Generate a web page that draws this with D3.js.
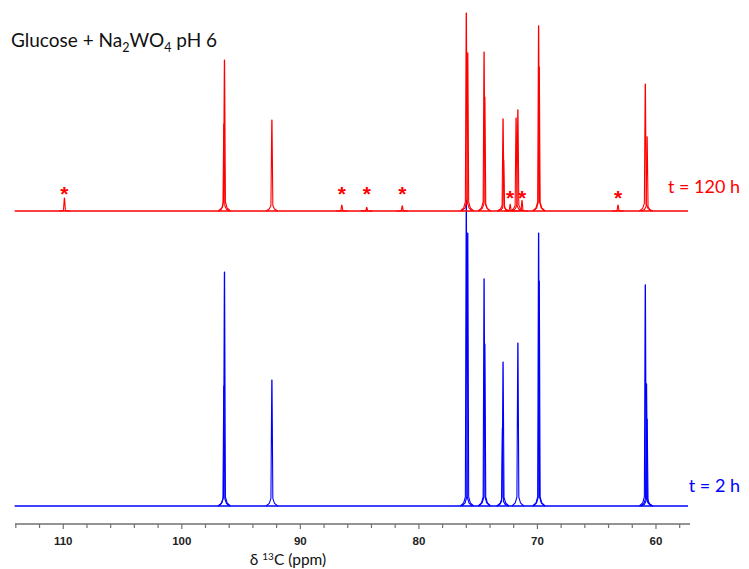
<!DOCTYPE html>
<html><head><meta charset="utf-8">
<script src="https://cdn.jsdelivr.net/npm/d3@7"></script>
<style>body{margin:0;background:#fff}svg{display:block}</style>
</head><body>
<svg id="c" width="749" height="569"></svg>
<script>
// ---- data ----
const spectrumRange = [114.1, 57.3];            // ppm range of recorded spectra
const tickLabels = [110, 100, 90, 80, 70, 60];  // labelled ticks
const minorTicks = [114,112,108,106,104,102,98,96,94,92,88,86,84,82,78,76,74,72,68,66,64,62,58];
// [ppm, intensity] (100 = tallest blue line)
const peaks120h = [
  [109.9, 4.3], [96.4, 50.3], [96.45, 29], [92.4, 30.3],
  [86.5, 2.0], [84.4, 1.2], [81.4, 1.7],
  [76.0, 66], [75.88, 52.7], [74.5, 53], [74.44, 38],
  [72.9, 30.7], [72.85, 17], [72.3, 2.2], [71.8, 31], [71.65, 33.7],
  [71.3, 3.5], [69.9, 61.7], [69.85, 48], [63.2, 2.0],
  [60.9, 42.3], [60.75, 24.7]
];
const peaks2h = [
  [96.4, 78], [96.45, 40], [92.4, 42],
  [76.0, 102], [75.88, 91], [74.5, 75.7], [74.44, 54],
  [72.9, 48], [72.95, 26], [71.65, 54.3],
  [69.9, 91], [69.85, 75], [60.9, 73.7], [60.8, 40.7], [60.75, 29]
];
const stars = [[109.9, 0], [86.5, 0], [84.4, 0], [81.4, 0], [72.3, 1], [71.3, 1], [63.2, 1]];
const title = ["Glucose + Na", "2", "WO", "4", " pH 6"];
const labels = ["t = 120 h", "t = 2 h"];

// ---- drawing ----
const svg = d3.select("#c");
const x = d3.scaleLinear().domain([114.07, 57.13]).range([15, 690]);
const h = d3.scaleLinear().domain([0, 100]).range([0, 300]);
const line = d3.line().x(d => x(d[0])).y(d => d[1]);

function drawSpectrum(peaks, base, color) {
  const g = svg.append("g");
  g.append("path")
    .attr("d", line([[spectrumRange[0], base], [spectrumRange[1], base]]))
    .attr("stroke", color).attr("stroke-width", 1.7).attr("fill", "none");
  peaks.forEach(([p, v]) => {
    const top = base - h(v);
    const f = Math.min(h(v) * 0.06, 9);
    const pts = [
      [p + 0.5, base], [p + 0.22, base - f * 0.35], [p + 0.08, base - f],
      [p + 0.01, top], [p - 0.01, top],
      [p - 0.08, base - f], [p - 0.22, base - f * 0.35], [p - 0.5, base]
    ];
    g.append("path").attr("d", line(pts))
      .attr("stroke", color).attr("stroke-width", 1.1).attr("fill", "none")
      .attr("stroke-linejoin", "round");
  });
}
drawSpectrum(peaks2h, 506, "#0000ff");
drawSpectrum(peaks120h, 211, "#ff0000");

// stars
svg.append("g").selectAll("text").data(stars).join("text")
  .attr("x", d => x(d[0])).attr("y", d => d[1] ? 205 : 201)
  .attr("text-anchor", "middle")
  .attr("font-family", "Liberation Sans, Arial, sans-serif")
  .attr("font-size", 21).attr("font-weight", "bold").attr("fill", "#ff0000")
  .text("*");

// axis
const axisY = 524;
const ax = svg.append("g").attr("transform", `translate(0,${axisY})`);
ax.append("line").attr("x1", 15).attr("x2", 690).attr("stroke", "#707070").attr("stroke-width", 1.3);
ax.selectAll("line.mi").data(minorTicks).join("line").attr("class", "mi")
  .attr("x1", d => x(d)).attr("x2", d => x(d)).attr("y1", 0).attr("y2", 4)
  .attr("stroke", "#707070").attr("stroke-width", 1.2);
ax.selectAll("line.ma").data(tickLabels).join("line").attr("class", "ma")
  .attr("x1", d => x(d)).attr("x2", d => x(d)).attr("y1", 0).attr("y2", 5)
  .attr("stroke", "#707070").attr("stroke-width", 1.2);
ax.selectAll("text").data(tickLabels).join("text")
  .attr("x", d => x(d)).attr("y", 21).attr("text-anchor", "middle")
  .attr("font-family", "Liberation Sans, Arial, sans-serif")
  .attr("font-size", 11.5).attr("font-weight", "bold").attr("fill", "#222")
  .text(d => d);

// axis title
const at = svg.append("text").attr("x", 288).attr("y", 565).attr("text-anchor", "middle")
  .attr("font-family", "Lato, sans-serif").attr("font-size", 15.5).attr("fill", "#111");
at.append("tspan").text("δ ");
at.append("tspan").attr("font-size", 10).attr("dy", -5).text("13");
at.append("tspan").attr("dy", 5).text("C (ppm)");

// title
const tt = svg.append("text").attr("x", 11).attr("y", 47)
  .attr("font-family", "Lato, sans-serif").attr("font-size", 19).attr("fill", "#111");
tt.append("tspan").text(title[0]);
tt.append("tspan").attr("font-size", 12.5).attr("dy", 5).text(title[1]);
tt.append("tspan").attr("dy", -5).text(title[2]);
tt.append("tspan").attr("font-size", 12.5).attr("dy", 5).text(title[3]);
tt.append("tspan").attr("dy", -5).text(title[4]);

// labels
svg.append("text").attr("x", 740).attr("y", 193).attr("text-anchor", "end")
  .attr("font-family", "Lato, sans-serif").attr("font-size", 18).attr("fill", "#ff0000").text(labels[0]);
svg.append("text").attr("x", 740).attr("y", 492).attr("text-anchor", "end")
  .attr("font-family", "Lato, sans-serif").attr("font-size", 18).attr("fill", "#0000ff").text(labels[1]);
</script>
</body></html>
